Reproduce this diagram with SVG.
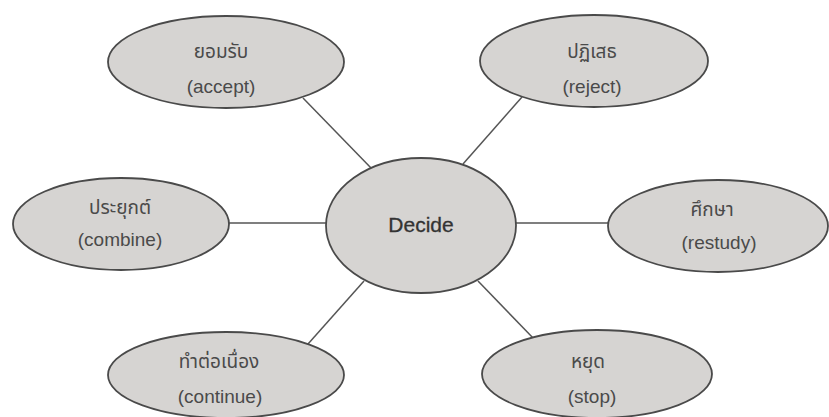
<svg xmlns="http://www.w3.org/2000/svg" width="829" height="417" viewBox="0 0 829 417">
<style>
.bg{fill:#ffffff}
.conn line{stroke:#555555;stroke-width:1.5}
.node ellipse{fill:#d6d4d2;stroke:#4a4a4a;stroke-width:1.8}
.th{font-family:"Noto Sans Thai","Noto Sans","Liberation Sans",sans-serif;font-size:19px;fill:#4a4a4a;text-anchor:middle}
.en{font-family:"Liberation Sans",Arial,sans-serif;font-size:19px;fill:#4a4a4a;text-anchor:middle}
.main{font-family:"Liberation Sans",Arial,sans-serif;font-size:21px;fill:#333333;stroke:#333333;stroke-width:0.3;text-anchor:middle}
</style>
<rect class="bg" x="0" y="0" width="829" height="417"/>
<g id="connectors" class="conn">
<line x1="303" y1="98" x2="372" y2="169"/>
<line x1="522" y1="97" x2="463" y2="164"/>
<line x1="225" y1="223" x2="330" y2="223"/>
<line x1="513" y1="223" x2="610" y2="223"/>
<line x1="308" y1="344" x2="364" y2="281"/>
<line x1="535" y1="340" x2="478" y2="281"/>
</g>
<g id="node-decide" class="node">
<ellipse cx="421" cy="225.5" rx="95" ry="67.5"/>
<text class="main" x="421" y="232">Decide</text>
</g>
<g id="node-accept" class="node">
<ellipse cx="226" cy="62" rx="118" ry="46"/>
<text class="th" x="221" y="58">ยอมรับ</text>
<text class="en" x="221" y="93">(accept)</text>
</g>
<g id="node-reject" class="node">
<ellipse cx="594" cy="61" rx="114" ry="46"/>
<text class="th" x="592" y="58">ปฏิเสธ</text>
<text class="en" x="592" y="93">(reject)</text>
</g>
<g id="node-combine" class="node">
<ellipse cx="121" cy="224" rx="108" ry="46"/>
<text class="th" x="120" y="214">ประยุกต์</text>
<text class="en" x="120" y="246">(combine)</text>
</g>
<g id="node-restudy" class="node">
<ellipse cx="718" cy="226" rx="110" ry="46"/>
<text class="th" x="712" y="216">ศึกษา</text>
<text class="en" x="719" y="249">(restudy)</text>
</g>
<g id="node-continue" class="node">
<ellipse cx="226" cy="375" rx="118" ry="43"/>
<text class="th" x="219" y="368">ทำต่อเนื่อง</text>
<text class="en" x="220" y="403">(continue)</text>
</g>
<g id="node-stop" class="node">
<ellipse cx="597" cy="374" rx="115" ry="44"/>
<text class="th" x="588" y="368">หยุด</text>
<text class="en" x="592" y="403">(stop)</text>
</g>
</svg>
